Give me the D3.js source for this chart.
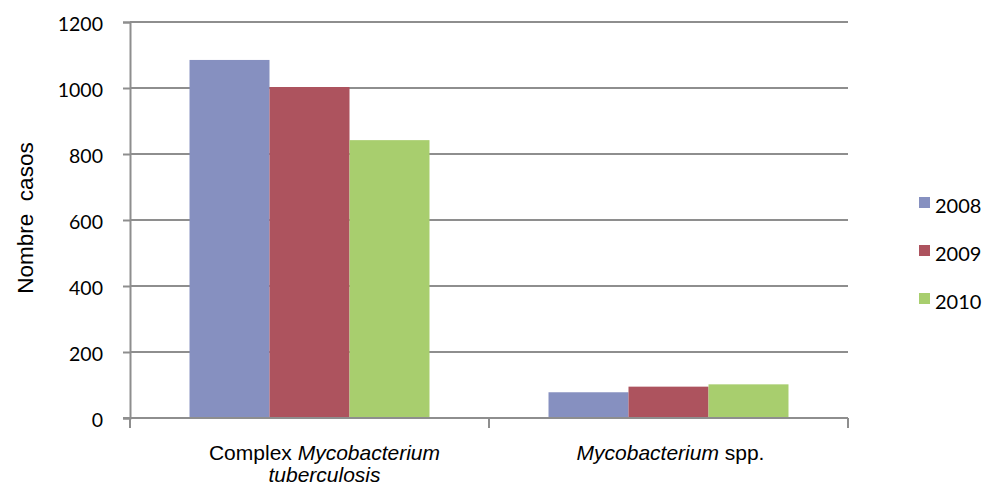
<!DOCTYPE html>
<html><head><meta charset="utf-8">
<script src="https://cdn.jsdelivr.net/npm/d3@7"></script>
<style>html,body{margin:0;padding:0;background:#fff;}</style>
</head><body>
<svg id="c" width="986" height="486"></svg>
<script>
const categories = ["Complex Mycobacterium tuberculosis", "Mycobacterium spp."];
const years = ["2008", "2009", "2010"];
const values2008 = [1085, 78];
const values2009 = [1003, 95];
const values2010 = [842, 102];
const yTicks = [0, 200, 400, 600, 800, 1000, 1200];
const colors = ["#8690c0", "#ad535e", "#a8ce6e"];
const yTitle = "Nombre\u00a0 casos";

const series = [values2008, values2009, values2010];
const svg = d3.select("#c");
const L = 130, R = 848, T = 22, B = 418;
const axisColor = "#8e8e8e";
const tickFont = "Lato, 'Liberation Sans', sans-serif";
const labFont = "'Liberation Sans', Arial, sans-serif";

const y = d3.scaleLinear().domain([0, 1200]).range([B, T]);
const x0 = d3.scaleBand().domain(categories).range([L, R]).paddingInner(0.3315).paddingOuter(0.3315/2);
const x1 = d3.scaleBand().domain(years).range([0, x0.bandwidth()]);

// gridlines
svg.append("g").selectAll("line").data(yTicks.filter(d => d > 0)).join("line")
  .attr("x1", L).attr("x2", R).attr("y1", d => y(d)).attr("y2", d => y(d))
  .attr("stroke", axisColor).attr("stroke-width", 2);

// y axis
const yAxis = svg.append("g").attr("transform", `translate(${L},0)`)
  .call(d3.axisLeft(y).tickValues(yTicks).tickFormat(d3.format("d")).tickSize(7).tickPadding(20));
yAxis.select(".domain").attr("stroke", axisColor).attr("stroke-width", 2);
yAxis.selectAll(".tick line").attr("stroke", axisColor).attr("stroke-width", 2);
yAxis.selectAll(".tick text").attr("font-family", tickFont).attr("font-size", 19.5)
  .attr("dy", "0.46em").attr("fill", "#000");

// bars
const groups = svg.append("g").selectAll("g").data(categories).join("g")
  .attr("transform", d => `translate(${x0(d)},0)`);
groups.selectAll("rect").data((d, i) => years.map((yr, j) => ({yr, v: series[j][i], j}))).join("rect")
  .attr("x", d => x1(d.yr)).attr("width", x1.bandwidth())
  .attr("y", d => y(d.v)).attr("height", d => B - y(d.v))
  .attr("fill", d => colors[d.j]);

// x axis
const xAxisG = svg.append("g");
xAxisG.append("line").attr("x1", L - 7).attr("x2", R).attr("y1", B).attr("y2", B)
  .attr("stroke", axisColor).attr("stroke-width", 2);
const step = x0.step();
const bounds = [L, L + step, R];
xAxisG.selectAll("line.t").data(bounds).join("line").attr("class", "t")
  .attr("x1", d => d).attr("x2", d => d).attr("y1", B).attr("y2", B + 10)
  .attr("stroke", axisColor).attr("stroke-width", 2);

// category labels
const fs = 21;
const c1x = x0(categories[0]) + x0.bandwidth() / 2 + 15;
const t1 = svg.append("text").attr("x", c1x).attr("y", 460).attr("text-anchor", "middle")
  .attr("font-family", labFont).attr("font-size", fs).attr("fill", "#000");
t1.append("tspan").text("Complex ");
t1.append("tspan").attr("font-style", "italic").text("Mycobacterium");
svg.append("text").attr("x", c1x).attr("y", 482).attr("text-anchor", "middle")
  .attr("font-family", labFont).attr("font-size", fs).attr("font-style", "italic").attr("fill", "#000")
  .text("tuberculosis");
const c2x = x0(categories[1]) + x0.bandwidth() / 2 + 2;
const t2 = svg.append("text").attr("x", c2x).attr("y", 460).attr("text-anchor", "middle")
  .attr("font-family", labFont).attr("font-size", fs).attr("fill", "#000");
t2.append("tspan").attr("font-style", "italic").text("Mycobacterium");
t2.append("tspan").text(" spp.");

// y title
svg.append("text").attr("transform", "translate(33,218) rotate(-90)").attr("text-anchor", "middle")
  .attr("font-family", labFont).attr("font-size", 22.5).attr("fill", "#000").text(yTitle);

// legend
const lg = svg.append("g").selectAll("g").data(years).join("g")
  .attr("transform", (d, i) => `translate(919,${197 + i * 48})`);
lg.append("rect").attr("width", 11).attr("height", 11).attr("fill", (d, i) => colors[i]);
lg.append("text").attr("x", 16).attr("y", 16).attr("font-family", tickFont).attr("font-size", 20)
  .attr("fill", "#000").text(d => d);
</script>
</body></html>
